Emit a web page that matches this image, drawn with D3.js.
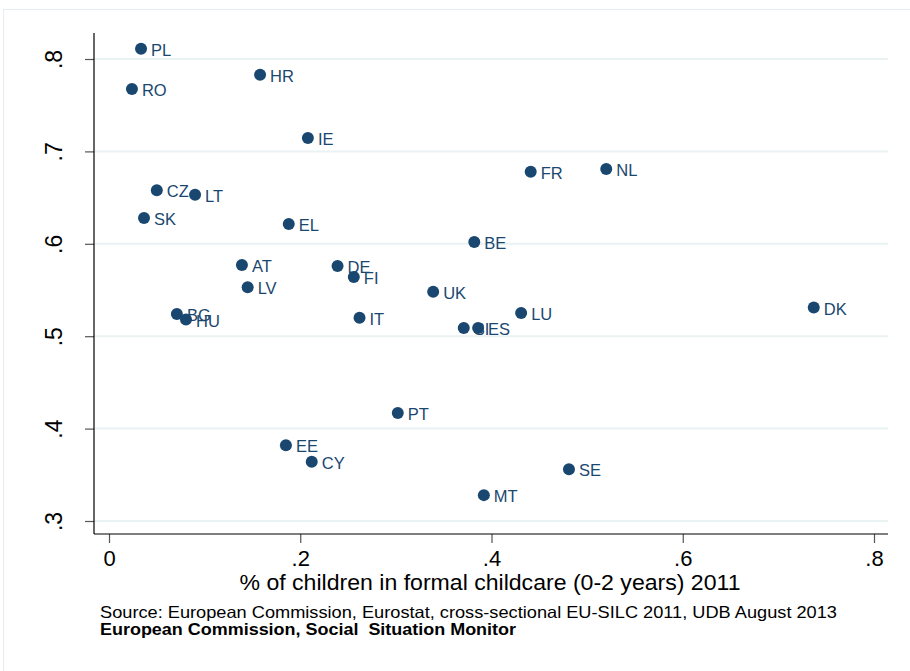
<!DOCTYPE html>
<html><head><meta charset="utf-8">
<script src="https://cdn.jsdelivr.net/npm/d3@7"></script>
<style>
html,body{margin:0;padding:0;background:#fff;}
text{font-family:"Liberation Sans",Arial,sans-serif;}
</style></head>
<body>
<svg id="chart" width="910" height="671"></svg>
<script>
const countries = ["PL","RO","HR","IE","FR","NL","CZ","LT","SK","EL","BE","AT","DE","FI","LV","UK","DK","LU","BG","HU","IT","SI","ES","PT","EE","CY","SE","MT"];
const childcare = [0.0335,0.024,0.158,0.208,0.441,0.520,0.050,0.090,0.0366,0.188,0.382,0.139,0.239,0.256,0.145,0.339,0.737,0.431,0.071,0.0805,0.262,0.371,0.386,0.302,0.185,0.212,0.481,0.392];
const yvalues = [0.811,0.7676,0.783,0.7146,0.678,0.681,0.658,0.653,0.628,0.6215,0.602,0.577,0.576,0.564,0.553,0.548,0.531,0.525,0.524,0.518,0.520,0.509,0.509,0.417,0.382,0.364,0.356,0.328];
const xTicks = [0,0.2,0.4,0.6,0.8];
const xTickLabels = ["0",".2",".4",".6",".8"];
const yTicks = [0.3,0.4,0.5,0.6,0.7,0.8];
const yTickLabels = [".3",".4",".5",".6",".7",".8"];
const xTitle = "% of children in formal childcare (0-2 years) 2011";
const note1 = "Source: European Commission, Eurostat, cross-sectional EU-SILC 2011, UDB August 2013";
const note2 = "European Commission, Social  Situation Monitor";

const svg = d3.select("#chart");
const navy = "#1a476f";
const x = d3.scaleLinear().domain([0,0.8]).range([109,874]);
const y = d3.scaleLinear().domain([0.3,0.8]).range([521,59]);
const plotLeft = 94, plotRight = 888, plotTop = 33, plotBottom = 534;

// outer frame
svg.append("rect").attr("x",3.5).attr("y",9.5).attr("width",920).attr("height",700)
  .attr("fill","none").attr("stroke","#e6edf0").attr("stroke-width",1);

// gridlines
svg.append("g").selectAll("line").data(yTicks).join("line")
  .attr("x1",plotLeft).attr("x2",plotRight)
  .attr("y1",d=>y(d)).attr("y2",d=>y(d))
  .attr("stroke","#eaf2f3").attr("stroke-width",2);

// y axis
const yAxis = d3.axisLeft(y).tickValues(yTicks).tickFormat((d,i)=>yTickLabels[i]).tickSize(9).tickPadding(0);
const gy = svg.append("g").attr("transform",`translate(${plotLeft},0)`).call(yAxis);
gy.select(".domain").remove();
gy.selectAll(".tick line").attr("stroke","#555").attr("stroke-width",1.2);
gy.selectAll(".tick text").attr("font-size",23).attr("fill","#000")
  .attr("x",0).attr("dy",null)
  .attr("transform","translate(-40,0) rotate(-90)")
  .attr("text-anchor","middle").attr("dominant-baseline","central");
svg.append("line").attr("x1",plotLeft).attr("x2",plotLeft).attr("y1",plotTop).attr("y2",plotBottom)
  .attr("stroke","#000").attr("stroke-width",1.2);

// x axis
const xAxis = d3.axisBottom(x).tickValues(xTicks).tickFormat((d,i)=>xTickLabels[i]).tickSize(9).tickPadding(7);
const gx = svg.append("g").attr("transform",`translate(0,${plotBottom})`).call(xAxis);
gx.select(".domain").remove();
gx.selectAll(".tick line").attr("stroke","#555").attr("stroke-width",1.2);
gx.selectAll(".tick text").attr("font-size",22).attr("fill","#000");
svg.append("line").attr("x1",plotLeft).attr("x2",plotRight).attr("y1",plotBottom).attr("y2",plotBottom)
  .attr("stroke","#000").attr("stroke-width",1.2);

// title & notes
svg.append("text").attr("x",490).attr("y",590).attr("text-anchor","middle")
  .attr("font-size",22.5).attr("fill","#000")
  .attr("textLength",501).attr("lengthAdjust","spacingAndGlyphs").text(xTitle);
svg.append("text").attr("x",100).attr("y",618).attr("font-size",16.5).attr("fill","#000")
  .attr("textLength",737).attr("lengthAdjust","spacingAndGlyphs").text(note1);
svg.append("text").attr("x",100).attr("y",635).attr("font-size",16).attr("font-weight","bold").attr("fill","#000")
  .attr("textLength",416).attr("lengthAdjust","spacingAndGlyphs").style("white-space","pre").text(note2);

// points
const data = countries.map((c,i)=>({c, x: childcare[i], y: yvalues[i]}));
const g = svg.append("g");
g.selectAll("circle").data(data).join("circle")
  .attr("cx",d=>x(d.x)).attr("cy",d=>y(d.y)).attr("r",6).attr("fill",navy);
g.selectAll("text").data(data).join("text")
  .attr("x",d=>x(d.x)+10).attr("y",d=>y(d.y)+1).attr("dominant-baseline","central")
  .attr("font-size",16.5).attr("fill",navy).text(d=>d.c);
</script>
</body></html>
